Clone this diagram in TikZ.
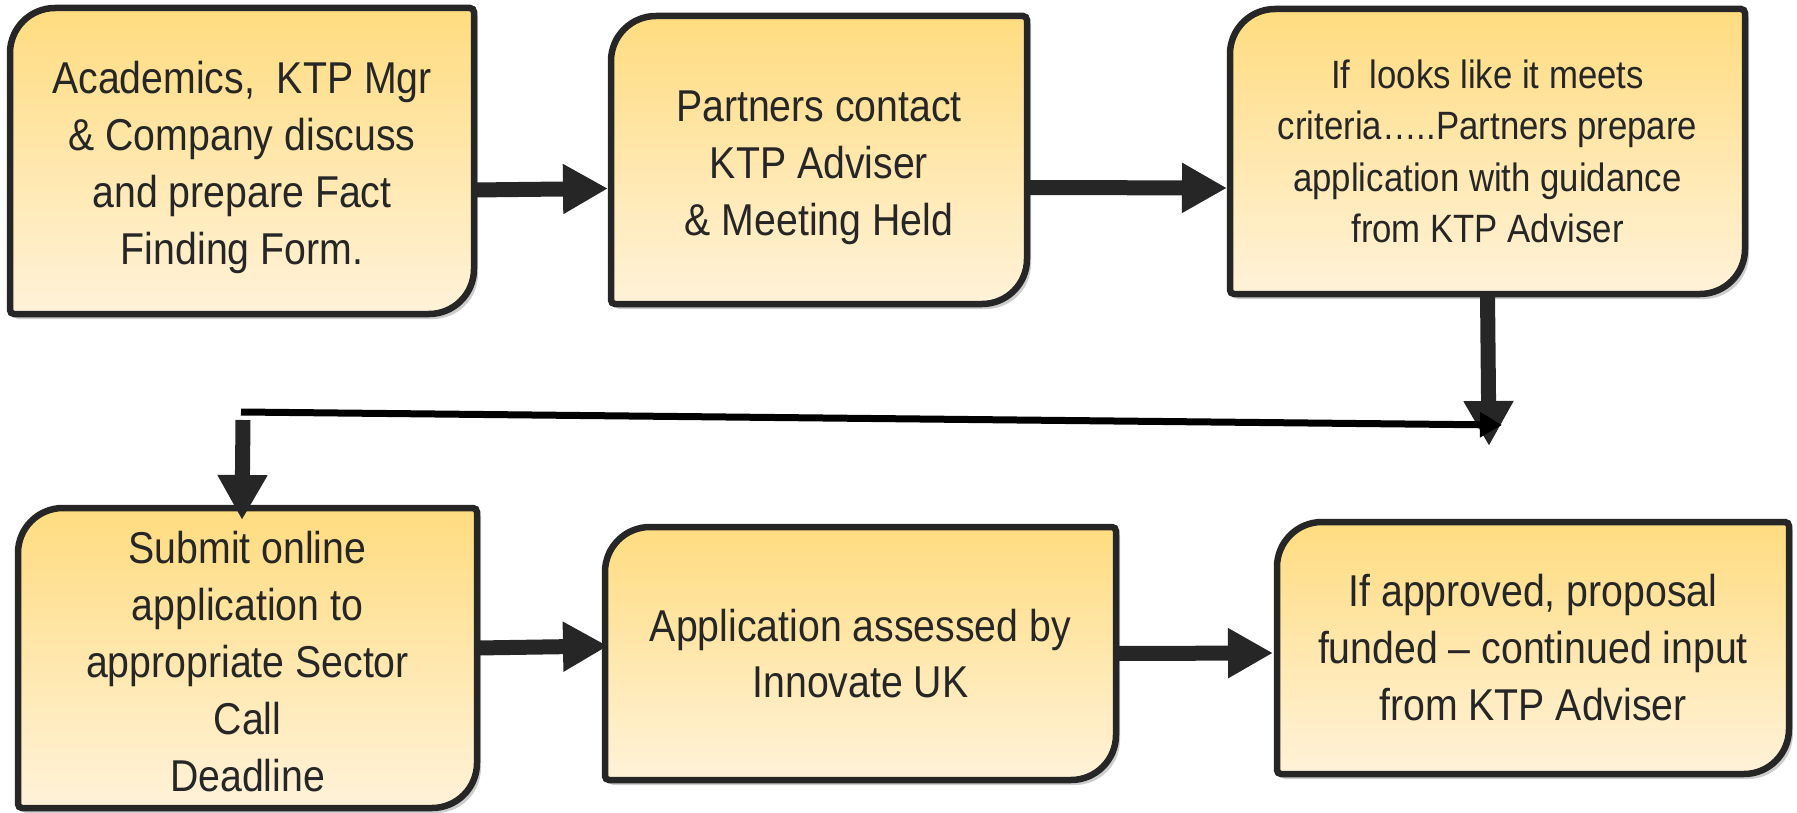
\documentclass[tikz,border=0pt]{standalone}
\usepackage{fontspec}
\setmainfont{Liberation Sans}[FakeStretch=0.88]
\usetikzlibrary{arrows.meta,calc,backgrounds}
\definecolor{ktptop}{RGB}{255,220,128}
\definecolor{ktpbot}{RGB}{255,242,217}
\definecolor{bordc}{RGB}{38,38,38}
\definecolor{textc}{RGB}{38,38,38}
\definecolor{shadc}{RGB}{205,205,205}
\newcommand\ktpoutline[3]{%
  ($(#1.north west)+(#2,{#3-45})$) arc[start angle=180,end angle=90,radius=45]
  -- ($(#1.north east)+({#2-4},#3)$) arc[start angle=90,end angle=0,radius=4]
  -- ($(#1.south east)+(#2,{#3+45})$) arc[start angle=0,end angle=-90,radius=45]
  -- ($(#1.south west)+({#2+4},#3)$) arc[start angle=270,end angle=180,radius=4]
  -- cycle}
\newcommand\ktpshape[1]{%
  \begin{scope}[on background layer]
    \fill[shadc] \ktpoutline{#1}{4}{-5};
    \shadedraw[top color=ktptop, bottom color=ktpbot, draw=bordc, line width=6.5pt] \ktpoutline{#1}{0}{0};
  \end{scope}}
\tikzset{
  ktpbox/.style={rectangle, inner sep=0pt, outer sep=0pt, align=center, text=textc,
    font=\fontsize{44.6}{57}\selectfont},
  bigarrow/.style={draw=bordc, line width=15pt, -{Triangle[length=45pt,width=47pt]}},
  thinarrow/.style={draw=black, line width=7pt, -{Triangle[length=22pt,width=24pt]}},
}
\begin{document}
\begin{tikzpicture}[x=1pt,y=1pt]
\useasboundingbox (0,0) rectangle (1797,-813);
\node[ktpbox, minimum width=464pt, minimum height=306pt] (b1) at (242,-161)
  {\rule{0pt}{45pt}Academics,\ \ KTP Mgr\\ \& Company discuss\\ and prepare Fact\\ Finding Form.};
\node[ktpbox, minimum width=416pt, minimum height=288pt] (b2) at (819,-160)
  {\rule{0pt}{46.5pt}Partners contact\\ KTP Adviser\\ \& Meeting Held};
\node[ktpbox, minimum width=515pt, minimum height=285pt, font=\fontsize{39.5}{51.5}\selectfont] (b3) at (1487.5,-151.5)
  {If\ \ looks like it meets\\ criteria…..Partners prepare\\ application with guidance\\ from KTP Adviser};
\node[ktpbox, minimum width=459pt, minimum height=300pt] (b4) at (247.5,-658)
  {\rule{0pt}{38.5pt}Submit online\\ application to\\ appropriate Sector\\ Call\\ Deadline};
\node[ktpbox, minimum width=511pt, minimum height=253pt, font=\fontsize{44.6}{56}\selectfont] (b5) at (860.5,-653.5)
  {Application assessed by\\ Innovate UK};
\node[ktpbox, minimum width=512pt, minimum height=252pt] (b6) at (1533,-648)
  {If approved, proposal\\ funded – continued input\\ from KTP Adviser};
\ktpshape{b1}\ktpshape{b2}\ktpshape{b3}\ktpshape{b4}\ktpshape{b5}\ktpshape{b6}
\coordinate (j0) at (241,-412);
\coordinate (j1) at (1489,-446);
\coordinate (j2) at (1502,-425);
\coordinate (j3) at (243,-420);
\draw[bigarrow] ([yshift=-29pt]b1.east) -- ([xshift=-3pt,yshift=-28.5pt]b2.west);
\draw[bigarrow] ([yshift=-27.5pt]b2.east) -- ([xshift=-3pt,yshift=-36.5pt]b3.west);
\draw[bigarrow] (b3.south) -- (j1);
\draw[thinarrow] (j0) -- (j2);
\draw[bigarrow] (j3) -- ([xshift=-5.5pt,yshift=-12pt]b4.north);
\draw[bigarrow] ([yshift=10pt]b4.east) -- ([xshift=3pt,yshift=7.5pt]b5.west);
\draw[bigarrow] (b5.east) -- ([xshift=-4pt,yshift=-5pt]b6.west);
\end{tikzpicture}
\end{document}
